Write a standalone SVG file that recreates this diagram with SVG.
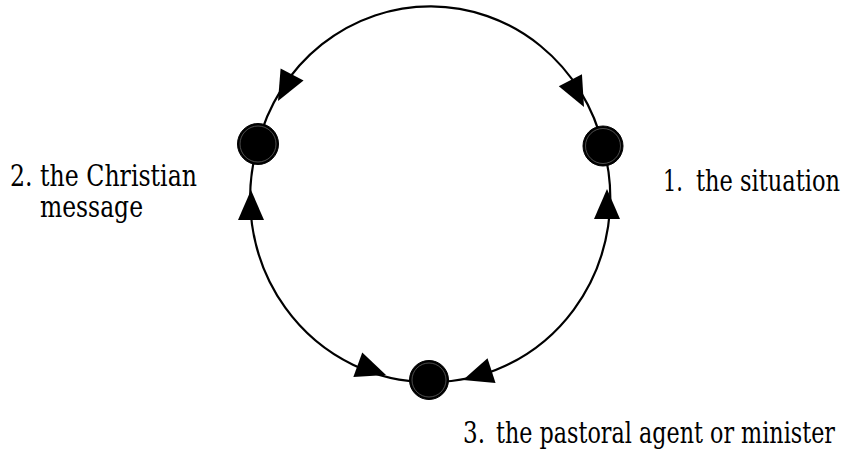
<svg xmlns="http://www.w3.org/2000/svg" width="850" height="450" viewBox="0 0 850 450">
  <style>
    .arc { fill: none; stroke: #000; stroke-width: 2.2; }
    .node { fill: #000; stroke: #000; stroke-width: 1; }
    .ring { fill: none; stroke: #9a9a9a; stroke-width: 0.5; }
    .lbl { font-family: 'DejaVu Serif', 'Liberation Serif', serif; font-size: 29px; fill: #000; }
  </style>
  <defs>
    <path id="ah" d="M0,0 L-30,-13 L-30,13 Z" fill="#000"/>
  </defs>
  <rect width="850" height="450" fill="#fff"/>
  <g id="connectors">
    <path class="arc" d="M258,144 A178,184 0 0 1 603,146"/>
    <path class="arc" d="M258,144 A178,184 0 0 0 429,382"/>
    <path class="arc" d="M603,146 A178,184 0 0 1 429,382"/>
    <use href="#ah" transform="translate(278,101) rotate(118)"/>
    <use href="#ah" transform="translate(584,107) rotate(63)"/>
    <use href="#ah" transform="translate(251,190) rotate(-90)"/>
    <use href="#ah" transform="translate(607,189) rotate(-90)"/>
    <use href="#ah" transform="translate(386,375) rotate(20)"/>
    <use href="#ah" transform="translate(463,380) rotate(162)"/>
  </g>
  <g id="node1">
    <circle class="node" cx="603" cy="146" r="20"/>
    <circle class="ring" cx="603" cy="146" r="17.5"/>
    <text class="lbl" transform="translate(663,191) scale(0.8,1)" textLength="25" lengthAdjust="spacingAndGlyphs">1.</text>
    <text class="lbl" transform="translate(696,191) scale(0.8,1)" textLength="180" lengthAdjust="spacingAndGlyphs">the situation</text>
  </g>
  <g id="node2">
    <circle class="node" cx="258" cy="144" r="20.5"/>
    <circle class="ring" cx="258" cy="144" r="18"/>
    <text class="lbl" transform="translate(10,186) scale(0.8,1)" textLength="233.75" lengthAdjust="spacingAndGlyphs">2. the Christian</text>
    <text class="lbl" transform="translate(40,217) scale(0.8,1)" textLength="128.75" lengthAdjust="spacingAndGlyphs">message</text>
  </g>
  <g id="node3">
    <circle class="node" cx="429" cy="380" r="19.5"/>
    <circle class="ring" cx="429" cy="380" r="17"/>
    <text class="lbl" transform="translate(463,443) scale(0.8,1)" textLength="27.5" lengthAdjust="spacingAndGlyphs">3.</text>
    <text class="lbl" transform="translate(496,443) scale(0.8,1)" textLength="423.75" lengthAdjust="spacingAndGlyphs">the pastoral agent or minister</text>
  </g>
</svg>
